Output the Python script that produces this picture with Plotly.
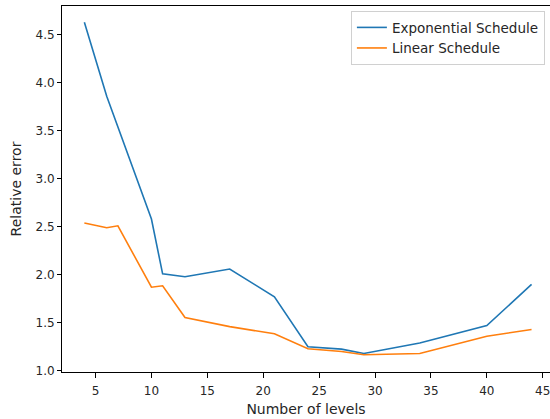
import plotly.graph_objects as go

exp_x = [4, 6, 10, 11, 13, 17, 21, 24, 27, 29, 34, 40, 44]
exp_y = [4.63, 3.86, 2.58, 2.01, 1.98, 2.06, 1.77, 1.25, 1.225, 1.18, 1.29, 1.47, 1.90]

lin_x = [4, 6, 7, 10, 11, 13, 17, 21, 24, 27, 29, 34, 40, 44]
lin_y = [2.54, 2.49, 2.51, 1.87, 1.885, 1.555, 1.46, 1.385, 1.23, 1.20, 1.167, 1.18, 1.36, 1.43]

x_ticks = [5, 10, 15, 20, 25, 30, 35, 40, 45]
y_ticks = [1.0, 1.5, 2.0, 2.5, 3.0, 3.5, 4.0, 4.5]

font = "DejaVu Sans"

fig = go.Figure()
fig.add_trace(go.Scatter(x=exp_x, y=exp_y, mode="lines", name="Exponential Schedule",
                         line=dict(color="#1f77b4", width=1.6)))
fig.add_trace(go.Scatter(x=lin_x, y=lin_y, mode="lines", name="Linear Schedule",
                         line=dict(color="#ff7f0e", width=1.6)))

fig.update_layout(
    width=550, height=419,
    margin=dict(l=62, r=0, t=6, b=47, autoexpand=False),
    paper_bgcolor="white", plot_bgcolor="white",
    font=dict(family=font, size=12, color="#262626"),
    legend=dict(x=0.592, y=0.986, xanchor="left", yanchor="top",
                bgcolor="rgba(255,255,255,0.8)", bordercolor="#d0d0d0", borderwidth=1,
                font=dict(size=13.5), tracegroupgap=0, itemwidth=30),
    xaxis=dict(range=[2, 45.65], tickvals=x_ticks, ticktext=[str(v) for v in x_ticks],
               showgrid=False, zeroline=False, showline=True, linecolor="black", linewidth=1,
               mirror=True, ticks="outside", ticklen=5, tickcolor="black",
               ticklabelstandoff=3,
               automargin=False, ticklabeloverflow="allow",
               title=dict(text="Number of levels", standoff=6)),
    yaxis=dict(range=[0.987, 4.80], tickvals=y_ticks, ticktext=[f"{v:.1f}" for v in y_ticks],
               showgrid=False, zeroline=False, showline=True, linecolor="black", linewidth=1,
               ticks="outside", ticklen=4, tickcolor="black",
               automargin=False,
               title=dict(text="Relative error", standoff=10)),
)

fig.write_html("out.html", config={"displayModeBar": False},
               post_script="document.body.style.margin='0';document.body.style.overflow='hidden';")
